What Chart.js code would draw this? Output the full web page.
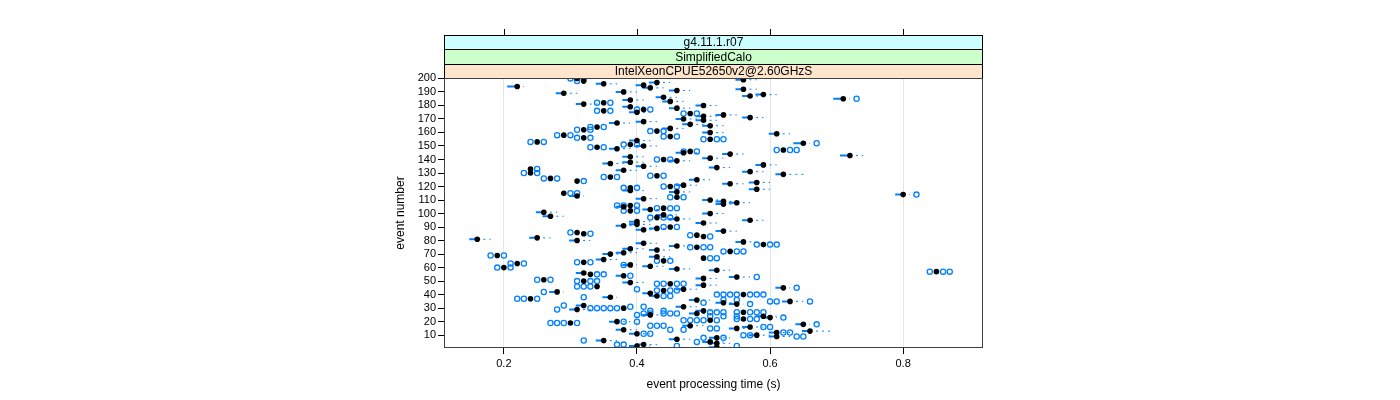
<!DOCTYPE html>
<html>
<head>
<meta charset="utf-8">
<title>event processing time</title>
<script src="https://cdn.jsdelivr.net/npm/chart.js@4.4.1/dist/chart.umd.min.js"></script>
<style>
  html, body { margin: 0; padding: 0; background: #fff; }
  canvas { display: block; }
</style>
</head>
<body>
<canvas id="chart" width="1400" height="400"></canvas>
<script>
// strip labels, top to bottom
const stripLabels = ["g4.11.1.r07", "SimplifiedCalo", "IntelXeonCPUE52650v2@2.60GHzS"];
const xTicks = [0.2, 0.4, 0.6, 0.8];
const yTicks = [10, 20, 30, 40, 50, 60, 70, 80, 90, 100, 110, 120, 130, 140, 150, 160, 170, 180, 190, 200];

// median time per event, event 1 first
const medians = [
  0.52, 0.40, 0.41, 0.52, 0.51, 0.35, 0.46, 0.52, 0.61, 0.58,
  0.40, 0.61, 0.66, 0.38, 0.55, 0.57, 0.48, 0.65, 0.30, 0.37,
  0.51, 0.56, 0.60, 0.59, 0.42, 0.49, 0.56, 0.50, 0.31, 0.38,
  0.47, 0.32, 0.55, 0.53, 0.63, 0.49, 0.24, 0.36, 0.43, 0.56,
  0.42, 0.28, 0.44, 0.47, 0.62, 0.34, 0.50, 0.45, 0.39, 0.32,
  0.26, 0.50, 0.55, 0.38, 0.33, 0.32, 0.85, 0.52, 0.46, 0.20,
  0.42, 0.39, 0.22, 0.32, 0.44, 0.35, 0.50, 0.43, 0.19, 0.36,
  0.38, 0.54, 0.43, 0.39, 0.49, 0.46, 0.59, 0.41, 0.56, 0.31,
  0.16, 0.25, 0.50, 0.49, 0.32, 0.31, 0.53, 0.41, 0.43, 0.45,
  0.38, 0.40, 0.50, 0.40, 0.57, 0.46, 0.43, 0.27, 0.44, 0.51,
  0.26, 0.39, 0.42, 0.44, 0.38, 0.39, 0.53, 0.55, 0.53, 0.51,
  0.41, 0.46, 0.31, 0.80, 0.29, 0.46, 0.39, 0.58, 0.39, 0.45,
  0.47, 0.54, 0.58, 0.31, 0.49, 0.27, 0.36, 0.43, 0.62, 0.24,
  0.57, 0.38, 0.24, 0.52, 0.41, 0.59, 0.36, 0.39, 0.46, 0.44,
  0.51, 0.39, 0.72, 0.54, 0.47, 0.48, 0.62, 0.37, 0.34, 0.41,
  0.39, 0.65, 0.25, 0.40, 0.51, 0.32, 0.45, 0.29, 0.61, 0.51,
  0.43, 0.32, 0.45, 0.34, 0.51, 0.48, 0.37, 0.41, 0.50, 0.47,
  0.57, 0.50, 0.53, 0.48, 0.40, 0.35, 0.41, 0.46, 0.39, 0.50,
  0.32, 0.35, 0.45, 0.39, 0.71, 0.44, 0.57, 0.59, 0.29, 0.38,
  0.46, 0.56, 0.42, 0.22, 0.41, 0.35, 0.43, 0.32, 0.56, 0.31
];

// lower end of the solid blue bar (bar runs to the median), null = none
const boxLo = [
  0.508, 0.388, 0.398, 0.508, 0.498, 0.338, 0.448, 0.508, 0.598, 0.568,
  0.388, 0.598, 0.648, 0.368, 0.538, 0.558, 0.468, 0.638, null, 0.358,
  null, null, 0.588, 0.578, 0.408, 0.478, null, 0.488, 0.298, null,
  0.458, 0.308, 0.538, 0.518, 0.618, 0.478, null, 0.348, 0.418, null,
  0.408, 0.268, null, 0.458, 0.608, null, 0.488, null, 0.378, null,
  null, 0.488, 0.538, 0.368, null, 0.308, null, 0.508, 0.448, null,
  0.408, 0.378, null, null, null, 0.338, null, 0.418, null, 0.348,
  0.368, null, 0.418, 0.378, null, 0.448, null, 0.398, 0.548, 0.298,
  0.148, 0.238, null, null, null, null, 0.518, 0.398, 0.418, null,
  0.368, 0.388, 0.488, 0.388, 0.558, 0.448, null, 0.258, 0.428, 0.498,
  0.248, null, 0.408, null, 0.368, null, 0.518, 0.538, 0.518, 0.498,
  0.398, null, 0.298, 0.788, null, 0.448, 0.378, 0.568, null, null,
  0.458, 0.528, 0.568, null, 0.478, null, null, null, 0.608, null,
  0.558, 0.368, null, 0.508, 0.398, 0.578, 0.348, 0.378, 0.448, null,
  0.498, 0.378, 0.705, 0.528, 0.458, null, null, 0.358, null, 0.398,
  null, 0.635, null, 0.388, null, null, null, null, 0.598, 0.498,
  null, null, 0.438, null, 0.498, 0.468, 0.358, 0.398, 0.488, 0.458,
  0.558, 0.488, 0.518, null, 0.388, null, null, 0.448, 0.378, 0.488,
  0.308, null, 0.438, 0.378, 0.695, 0.428, 0.558, 0.578, 0.278, 0.368,
  0.448, 0.548, 0.408, 0.205, 0.398, 0.338, 0.418, null, 0.548, null
];

// upper end of the dashed whisker (whisker starts at the median), null = none
const whiskHi = [
  0.54, 0.42, 0.43, 0.54, 0.53, 0.37, 0.48, 0.54, 0.63, 0.60,
  0.42, 0.63, 0.69, 0.40, 0.57, 0.59, 0.50, 0.66, null, 0.39,
  null, null, 0.61, 0.61, 0.44, 0.51, null, 0.52, 0.33, null,
  0.49, 0.34, 0.56, 0.55, 0.65, 0.51, null, 0.37, 0.44, null,
  0.44, 0.29, null, 0.49, 0.63, null, 0.52, null, 0.41, null,
  null, 0.52, 0.57, 0.39, null, 0.33, null, 0.54, 0.48, null,
  0.44, 0.40, null, null, null, 0.37, null, 0.45, null, 0.38,
  0.40, null, 0.45, 0.41, null, 0.48, null, 0.43, 0.58, 0.33,
  0.18, 0.27, null, null, null, null, 0.55, 0.43, 0.45, null,
  0.40, 0.42, 0.52, 0.42, 0.59, 0.48, null, 0.29, 0.46, 0.53,
  0.28, null, 0.44, null, 0.40, null, 0.55, 0.57, 0.55, 0.53,
  0.43, null, 0.32, 0.81, null, 0.48, 0.41, 0.60, null, null,
  0.49, 0.56, 0.60, null, 0.51, null, null, null, 0.65, null,
  0.59, 0.40, null, 0.54, 0.43, 0.61, 0.38, 0.41, 0.48, null,
  0.53, 0.41, 0.74, 0.56, 0.49, null, null, 0.39, null, 0.43,
  null, 0.66, null, 0.42, null, null, null, null, 0.63, 0.53,
  null, null, 0.47, null, 0.53, 0.50, 0.39, 0.43, 0.52, 0.49,
  0.59, 0.52, 0.55, null, 0.42, null, null, 0.48, 0.41, 0.52,
  0.34, null, 0.47, 0.41, 0.72, 0.46, 0.59, 0.61, 0.31, 0.40,
  0.48, 0.58, 0.44, 0.23, 0.43, 0.37, 0.45, null, 0.58, null
];

// single runs drawn as open circles: [event, time]
const outliers = [
  [200, 0.30], [200, 0.32], [198, 0.31], [185, 0.73], [182, 0.34], [182, 0.36],
  [177, 0.40], [177, 0.42], [176, 0.34], [176, 0.36], [174, 0.47], [174, 0.49],
  [164, 0.33], [164, 0.35], [162, 0.31], [162, 0.33], [161, 0.42], [161, 0.44],
  [158, 0.28], [158, 0.30], [157, 0.44], [157, 0.46], [156, 0.31], [156, 0.33],
  [155, 0.50], [155, 0.52], [155, 0.53], [153, 0.24], [153, 0.26], [152, 0.67],
  [151, 0.38], [151, 0.40], [149, 0.33], [149, 0.35], [147, 0.61], [147, 0.63],
  [147, 0.64], [146, 0.47], [146, 0.49], [140, 0.43], [140, 0.45], [133, 0.25],
  [130, 0.23], [130, 0.25], [128, 0.42], [128, 0.44], [127, 0.35], [127, 0.37],
  [126, 0.26], [126, 0.28], [124, 0.32], [120, 0.44], [120, 0.46], [119, 0.38],
  [119, 0.40], [115, 0.30], [115, 0.31], [114, 0.82], [112, 0.45], [112, 0.47],
  [106, 0.37], [106, 0.38], [106, 0.40], [104, 0.43], [104, 0.45], [104, 0.46],
  [102, 0.38], [102, 0.40], [97, 0.42], [97, 0.44], [97, 0.45], [90, 0.44],
  [90, 0.46], [86, 0.30], [85, 0.33], [84, 0.48], [83, 0.51], [77, 0.58],
  [77, 0.60], [77, 0.61], [75, 0.48], [75, 0.50], [75, 0.51], [72, 0.53],
  [72, 0.55], [72, 0.56], [69, 0.18], [69, 0.20], [67, 0.51], [67, 0.52],
  [65, 0.43], [65, 0.45], [64, 0.31], [64, 0.33], [63, 0.21], [63, 0.23],
  [62, 0.38], [60, 0.19], [60, 0.21], [57, 0.84], [57, 0.86], [57, 0.87],
  [55, 0.34], [55, 0.35], [54, 0.39], [53, 0.58], [51, 0.25], [51, 0.27],
  [50, 0.31], [50, 0.33], [50, 0.34], [48, 0.43], [48, 0.44], [48, 0.46],
  [48, 0.47], [46, 0.31], [46, 0.32], [46, 0.33], [45, 0.64], [44, 0.40],
  [43, 0.43], [43, 0.45], [43, 0.46], [42, 0.26], [40, 0.52], [40, 0.53],
  [40, 0.54], [40, 0.55], [40, 0.57], [40, 0.58], [40, 0.59], [39, 0.44],
  [39, 0.45], [38, 0.32], [37, 0.22], [37, 0.23], [37, 0.25], [36, 0.53],
  [36, 0.55], [35, 0.60], [35, 0.61], [35, 0.66], [34, 0.50], [33, 0.57],
  [32, 0.29], [31, 0.39], [31, 0.41], [30, 0.33], [30, 0.34], [30, 0.35],
  [30, 0.36], [30, 0.37], [29, 0.28], [28, 0.42], [28, 0.44], [27, 0.51],
  [27, 0.52], [27, 0.53], [27, 0.55], [27, 0.57], [27, 0.58], [27, 0.59],
  [26, 0.41], [26, 0.42], [26, 0.44], [26, 0.45], [26, 0.46], [25, 0.40],
  [24, 0.51], [24, 0.53], [24, 0.55], [23, 0.62], [22, 0.55], [22, 0.57],
  [22, 0.58], [21, 0.47], [21, 0.48], [21, 0.49], [21, 0.50], [21, 0.52],
  [20, 0.38], [20, 0.40], [19, 0.27], [19, 0.28], [19, 0.29], [19, 0.31],
  [18, 0.67], [17, 0.42], [17, 0.43], [17, 0.44], [16, 0.59], [16, 0.60],
  [15, 0.51], [15, 0.52], [14, 0.45], [14, 0.47], [12, 0.62], [12, 0.63],
  [11, 0.41], [11, 0.42], [10, 0.56], [10, 0.57], [9, 0.64], [9, 0.65],
  [8, 0.50], [8, 0.53], [6, 0.32], [5, 0.49], [3, 0.37], [3, 0.38],
  [2, 0.46], [2, 0.55]
];

const BLUE = "#0080ff";
const FONT = "'Liberation Sans', Arial, Helvetica, sans-serif";

const medianPts = medians.map((m, i) => ({ x: m, y: i + 1 }));
const outlierPts = outliers.map(([ev, t]) => ({ x: t, y: ev }));
const boxPts = [];
const whiskPts = [];
medians.forEach((m, i) => {
  const ev = i + 1;
  if (boxLo[i] != null) boxPts.push({ x: boxLo[i], y: ev }, { x: m, y: ev }, { x: null, y: null });
  if (whiskHi[i] != null) whiskPts.push({ x: m, y: ev }, { x: whiskHi[i], y: ev }, { x: null, y: null });
});

// strips, panel border, top ticks and axis titles, lattice style
const latticeFrame = {
  id: "latticeFrame",
  afterDraw(chart) {
    const { ctx, chartArea: a, scales: { x } } = chart;
    ctx.save();
    ctx.lineWidth = 1;

    ctx.strokeStyle = "#000";
    xTicks.forEach(v => {
      const px = Math.round(x.getPixelForValue(v)) + 0.5;
      ctx.beginPath();
      ctx.moveTo(px, 29);
      ctx.lineTo(px, 35);
      ctx.stroke();
    });

    const stripColors = ["#ccffff", "#ccffcc", "#ffe5cc"];
    const stripEdges = [35, 49, 64, 78];
    ctx.font = "12px " + FONT;
    ctx.textAlign = "center";
    ctx.textBaseline = "middle";
    stripLabels.forEach((label, i) => {
      const y0 = stripEdges[i], y1 = stripEdges[i + 1];
      ctx.fillStyle = stripColors[i];
      ctx.fillRect(a.left, y0, a.width, y1 - y0);
      ctx.strokeStyle = "#000";
      ctx.strokeRect(a.left + 0.5, y0 + 0.5, a.width - 1, y1 - y0);
      ctx.fillStyle = "#000";
      ctx.fillText(label, (a.left + a.right) / 2, (y0 + y1) / 2 + 1);
    });

    ctx.strokeStyle = "#404040";
    ctx.strokeRect(a.left + 0.5, a.top + 0.5, a.width - 1, a.height - 1);

    ctx.fillStyle = "#000";
    ctx.font = "12px " + FONT;
    ctx.fillText("event processing time (s)", (a.left + a.right) / 2, 385);
    ctx.translate(401, (a.top + a.bottom) / 2);
    ctx.rotate(-Math.PI / 2);
    ctx.fillText("event number", 0, 0);
    ctx.restore();
  }
};

new Chart(document.getElementById("chart"), {
  type: "scatter",
  data: {
    datasets: [
      {
        label: "median",
        data: medianPts,
        pointRadius: 2.8,
        pointHoverRadius: 2.8,
        backgroundColor: "#000",
        borderColor: "#000",
        borderWidth: 0
      },
      {
        label: "runs",
        data: outlierPts,
        pointRadius: 2.6,
        pointHoverRadius: 2.6,
        backgroundColor: "rgba(0,0,0,0)",
        borderColor: BLUE,
        borderWidth: 1.3
      },
      {
        type: "line",
        label: "box",
        data: boxPts,
        borderColor: BLUE,
        borderWidth: 2,
        pointRadius: 0,
        spanGaps: false
      },
      {
        type: "line",
        label: "whisker",
        data: whiskPts,
        borderColor: BLUE,
        borderWidth: 1,
        borderDash: [2, 4],
        pointRadius: 0,
        spanGaps: false
      }
    ]
  },
  options: {
    responsive: false,
    animation: false,
    devicePixelRatio: 1,
    layout: { padding: { left: 0, right: 417, top: 78, bottom: 0 } },
    plugins: { legend: { display: false }, tooltip: { enabled: false } },
    scales: {
      x: {
        type: "linear",
        min: 0.11,
        max: 0.92,
        afterBuildTicks: s => { s.ticks = xTicks.map(v => ({ value: v })); },
        afterFit: s => { s.height = 52; },
        border: { display: false },
        grid: { color: "#e6e6e6", tickColor: "#000", tickLength: 6, drawOnChartArea: true },
        ticks: { color: "#000", font: { family: FONT, size: 11 }, padding: 3, maxRotation: 0, autoSkip: false,
                 callback: v => v.toFixed(1) }
      },
      y: {
        type: "linear",
        min: 0.5,
        max: 200.3,
        afterBuildTicks: s => { s.ticks = yTicks.map(v => ({ value: v })); },
        afterFit: s => { s.width = 444; },
        border: { display: false },
        grid: { drawOnChartArea: false, tickColor: "#000", tickLength: 6 },
        ticks: { color: "#000", font: { family: FONT, size: 11 }, padding: 2, autoSkip: false }
      }
    }
  },
  plugins: [latticeFrame]
});
</script>
</body>
</html>
